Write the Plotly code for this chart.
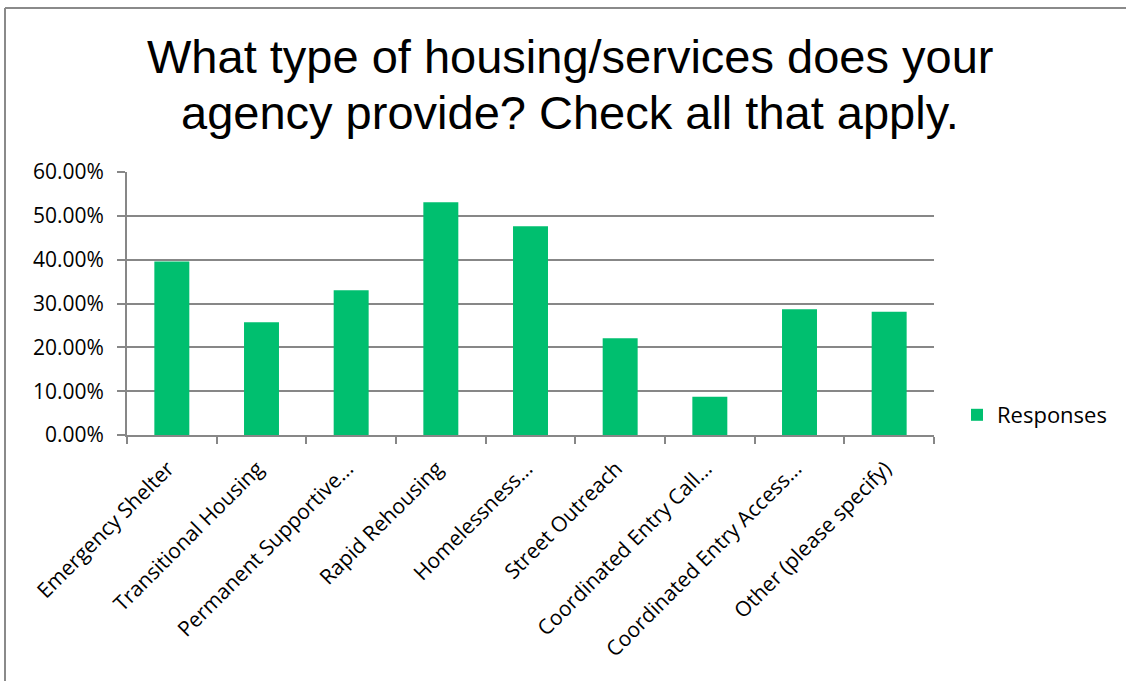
import plotly.graph_objects as go

# Survey question and response shares
title_lines = ["What type of housing/services does your", "agency provide? Check all that apply."]
categories = [
    "Emergency Shelter",
    "Transitional Housing",
    "Permanent Supportive...",
    "Rapid Rehousing",
    "Homelessness...",
    "Street Outreach",
    "Coordinated Entry Call...",
    "Coordinated Entry Access...",
    "Other (please specify)",
]
responses = [0.396, 0.257, 0.330, 0.531, 0.476, 0.221, 0.087, 0.287, 0.281]
y_ticks = [0.0, 0.1, 0.2, 0.3, 0.4, 0.5, 0.6]
# Tail of the previous heading, running off the top edge
top_fragment = "apply."

W, H = 1126, 681
L, R, T, B = 127, 192, 172, 246
pw, ph = W - L - R, H - T - B

GREEN = "#00BF6F"
GRID = "#878787"
LABEL_FONT = "'Open Sans', Lato, sans-serif"
TITLE_FONT = "'Liberation Sans', Arial, sans-serif"

fig = go.Figure()
fig.add_trace(go.Bar(
    x=categories,
    y=responses,
    name="Responses",
    marker=dict(color=GREEN, line=dict(width=0)),
    width=0.39,
    showlegend=True,
))

fig.update_layout(
    width=W,
    height=H,
    margin=dict(l=L, r=R, t=T, b=B, pad=0),
    paper_bgcolor="white",
    plot_bgcolor="white",
    showlegend=True,
    legend=dict(
        x=(957 - L) / pw,
        xanchor="left",
        y=(435 - 415) / ph,
        yanchor="middle",
        font=dict(family=LABEL_FONT, size=22, color="black"),
        bgcolor="rgba(0,0,0,0)",
        itemsizing="constant",
    ),
)

# Two-line heading, one annotation per line
title_mid_y = [57, 112]
for line, ymid in zip(title_lines, title_mid_y):
    fig.add_annotation(
        text=line,
        xref="paper", yref="paper",
        x=(570 - L) / pw, y=1 + (T - ymid) / ph,
        xanchor="center", yanchor="middle",
        showarrow=False,
        font=dict(family=TITLE_FONT, size=47, color="black"),
    )

fig.add_annotation(
    text=top_fragment,
    xref="paper", yref="paper",
    x=(973 - L) / pw, y=1 + (T - 2) / ph,
    xanchor="left", yanchor="bottom",
    showarrow=False,
    font=dict(family=TITLE_FONT, size=36, color="#222222", weight="bold"),
)

fig.update_xaxes(
    type="category",
    tickangle=-45,
    tickfont=dict(family=LABEL_FONT, size=21, color="black"),
    ticks="outside",
    tickson="boundaries",
    ticklen=7,
    tickwidth=2,
    tickcolor=GRID,
    ticklabelstandoff=11,
    ticklabelshift=-4,
    showline=True,
    linecolor=GRID,
    linewidth=2,
    showgrid=False,
)

fig.update_yaxes(
    range=[0, 0.6],
    tickvals=y_ticks,
    tickformat=".2%",
    tickfont=dict(family=LABEL_FONT, size=21, color="black"),
    ticks="outside",
    ticklen=8,
    tickwidth=2,
    tickcolor=GRID,
    ticklabelstandoff=9,
    showline=True,
    linecolor=GRID,
    linewidth=2,
    showgrid=True,
    gridcolor=GRID,
    gridwidth=2,
    zeroline=False,
)

# Frame lines along the top and left edges of the slide
fig.add_shape(type="line", xref="paper", yref="paper",
              x0=(5 - L) / pw, x1=(W - L) / pw, y0=1 + (T - 8) / ph, y1=1 + (T - 8) / ph,
              line=dict(color="#8a8a8a", width=2))
fig.add_shape(type="line", xref="paper", yref="paper",
              x0=(5 - L) / pw, x1=(5 - L) / pw, y0=1 + (T - 8) / ph, y1=-(B + 5) / ph,
              line=dict(color="#8a8a8a", width=2))

fig.write_html("out.html")
